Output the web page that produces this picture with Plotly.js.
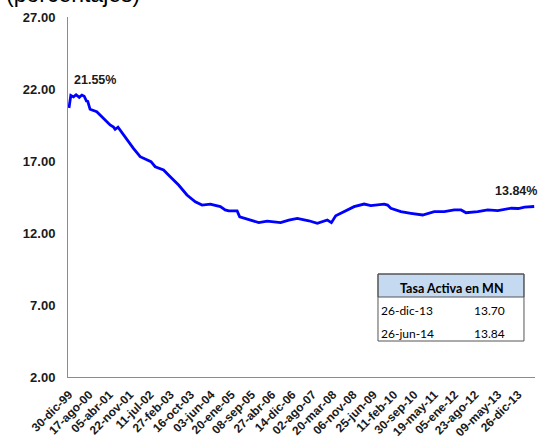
<!DOCTYPE html>
<html>
<head>
<meta charset="utf-8">
<script src="https://cdn.plot.ly/plotly-3.0.1.min.js"></script>
<style>
html,body{margin:0;padding:0;background:#fff;}
#chart{width:539px;height:446px;}
</style>
</head>
<body>
<div id="chart"></div>
<script>
// Series: Tasa Activa en MN (porcentajes)
const fechas = [
 '1999-12-30','2000-01-20','2000-02-20','2000-03-20','2000-04-25','2000-05-25','2000-06-20','2000-07-05',
 '2000-07-19','2000-07-28','2000-08-26','2000-11-10',
 '2001-01-24','2001-04-11','2001-05-20','2001-06-07','2001-07-10','2001-08-03','2001-08-20','2001-10-18','2002-01-01',
 '2002-03-19','2002-06-03','2002-07-20','2002-09-06','2002-12-10','2003-02-24','2003-05-30',
 '2003-09-02','2003-12-06','2004-02-21','2004-05-25','2004-09-16','2004-11-10','2004-12-20',
 '2005-03-26','2005-04-24','2005-07-18','2005-11-27','2006-03-03','2006-08-02',
 '2006-11-04','2007-02-08','2007-06-20','2007-09-24','2008-01-16','2008-03-02',
 '2008-04-20','2008-07-24','2008-11-15','2009-03-09','2009-05-24','2009-10-23',
 '2009-12-01','2010-01-07','2010-05-01','2010-08-23','2011-01-04','2011-05-16',
 '2011-09-07','2011-12-30','2012-03-16','2012-05-12','2012-09-22','2013-01-14',
 '2013-05-08','2013-10-07','2013-12-26','2014-03-08','2014-06-26'
];
const tasas = [
 20.68,21.55,21.45,21.60,21.42,21.58,21.50,21.30,
 21.12,21.20,20.59,20.42,
 19.96,19.50,19.35,19.20,19.35,19.15,19.00,18.46,17.88,
 17.30,17.07,16.95,16.60,16.38,15.91,15.33,
 14.64,14.17,13.94,14.01,13.83,13.60,13.53,
 13.53,13.13,12.95,12.72,12.83,12.72,
 12.90,13.02,12.85,12.67,12.90,12.72,
 13.20,13.48,13.83,14.01,13.90,14.01,
 13.94,13.72,13.48,13.37,13.25,13.48,
 13.48,13.60,13.60,13.41,13.48,13.60,
 13.55,13.72,13.70,13.80,13.84
];
const tickFechas = ['1999-12-30','2000-08-17','2001-04-05','2001-11-22','2002-07-11','2003-02-27',
 '2003-10-16','2004-06-03','2005-01-20','2005-09-08','2006-04-27','2006-12-14','2007-08-02',
 '2008-03-20','2008-11-06','2009-06-25','2010-02-11','2010-09-30','2011-05-19','2012-01-05',
 '2012-08-23','2013-05-09','2013-12-26'];
const tickTextos = ['30-dic-99','17-ago-00','05-abr-01','22-nov-01','11-jul-02','27-feb-03',
 '16-oct-03','03-jun-04','20-ene-05','08-sep-05','27-abr-06','14-dic-06','02-ago-07',
 '20-mar-08','06-nov-08','25-jun-09','11-feb-10','30-sep-10','19-may-11','05-ene-12',
 '23-ago-12','09-may-13','26-dic-13'];
const yTicks = [2,7,12,17,22,27];
const tablaTitulo = 'Tasa Activa en MN';
const tablaFechas = ['26-dic-13','26-jun-14'];
const tablaValores = ['13.70','13.84'];
const etiquetaMax = '21.55%';
const etiquetaFin = '13.84%';

const F = 'Liberation Sans, Arial, sans-serif';
const FT = 'Lato, Carlito, Calibri, sans-serif';

const annotations = [
  {xref:'paper', yref:'paper', x:-0.137, y:1.023, xanchor:'left', yanchor:'bottom',
   text:'(porcentajes)', showarrow:false, font:{family:F, size:23, color:'#000'}},
  {x:'2000-02-02', y:22.65, xanchor:'left', yanchor:'middle', text:'<b>'+etiquetaMax+'</b>',
   showarrow:false, font:{family:F, size:12.5, color:'#1a1a1a'}},
  {xref:'paper', x:1.009, y:14.95, xanchor:'right', yanchor:'middle', text:'<b>'+etiquetaFin+'</b>',
   showarrow:false, font:{family:F, size:12.5, color:'#1a1a1a'}},
  {xref:'paper', yref:'paper', x:0.8223, y:0.2472, xanchor:'center', yanchor:'middle',
   text:'<b>'+tablaTitulo+'</b>', showarrow:false, font:{family:FT, size:12.5, color:'#000'}}
];
const rowsY = [0.186, 0.122];
tablaFechas.forEach((f,i)=>{
  annotations.push({xref:'paper', yref:'paper', x:0.667, y:rowsY[i], xanchor:'left', yanchor:'middle',
    text:f, showarrow:false, font:{family:FT, size:12, color:'#000'}});
  annotations.push({xref:'paper', yref:'paper', x:0.941, y:rowsY[i], xanchor:'right', yanchor:'middle',
    text:tablaValores[i], showarrow:false, font:{family:FT, size:12, color:'#000'}});
});

const shapes = [
  {type:'rect', xref:'paper', yref:'paper', x0:0.6638, x1:0.9764, y0:0.2222, y1:0.2861,
   fillcolor:'#c5d9f1', line:{color:'#555', width:1}},
  {type:'rect', xref:'paper', yref:'paper', x0:0.6638, x1:0.9764, y0:0.1, y1:0.2861,
   fillcolor:'rgba(0,0,0,0)', line:{color:'#555', width:1}}
];

Plotly.newPlot('chart', [{
  x: fechas, y: tasas, type:'scatter', mode:'lines',
  line:{color:'#0000ff', width:2.8}, hoverinfo:'skip'
}], {
  width:539, height:446,
  margin:{l:68, r:4, t:17, b:69},
  paper_bgcolor:'#fff', plot_bgcolor:'#fff',
  showlegend:false,
  xaxis:{type:'date', range:['1999-12-19','2014-07-05'], tickmode:'array',
    tickvals:tickFechas, ticktext:tickTextos, tickangle:-45, ticks:'', ticklabelstandoff:5,
    showgrid:false, zeroline:false, showline:true, linecolor:'#8c8c8c', linewidth:1,
    tickfont:{family:F, size:12, color:'#1a1a1a', weight:'bold'}},
  yaxis:{range:[2,27], tickmode:'array', tickvals:yTicks, ticktext:yTicks.map(v=>'<b>'+v.toFixed(2)+'</b>'),
    ticks:'', ticklabelstandoff:9, showgrid:false, zeroline:false, showline:true, linecolor:'#8c8c8c', linewidth:1,
    tickfont:{family:F, size:13, color:'#1a1a1a'}},
  annotations, shapes
}, {staticPlot:true});
</script>
</body>
</html>
